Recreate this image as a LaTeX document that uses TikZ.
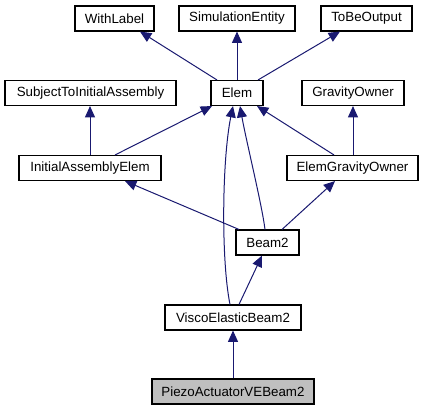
\documentclass[tikz,border=0pt]{standalone}
\usepackage{fontspec}
\setmainfont{Liberation Sans}
\usetikzlibrary{arrows.meta,calc}
\definecolor{edgeblue}{RGB}{25,25,112}
\definecolor{selgray}{RGB}{191,191,191}
\begin{document}
\begin{tikzpicture}[x=0.75pt,y=-0.75pt,
  cls/.style={draw=black,line width=0.8pt,fill=white,inner sep=0pt,minimum height=25*0.75pt,font=\fontsize{10}{12}\selectfont},
  inh/.style={draw=edgeblue,line width=0.75pt,-{Triangle[length=8.5pt,width=7.5pt]},fill=none},
]
\useasboundingbox (0,0) rectangle (424,411);
\node[cls,minimum width=79*0.75pt] (wl) at (114.5,18.5) {WithLabel};
\node[cls,minimum width=116*0.75pt] (se) at (237,18.5) {SimulationEntity};
\node[cls,minimum width=91*0.75pt] (tbo) at (366.5,18.5) {ToBeOutput};
\node[cls,minimum width=171*0.75pt] (stia) at (90.5,93) {SubjectToInitialAssembly};
\node[cls,minimum width=52*0.75pt] (elem) at (237,93) {Elem};
\node[cls,minimum width=102*0.75pt] (go) at (353,93) {GravityOwner};
\node[cls,minimum width=142*0.75pt] (iae) at (90,168) {InitialAssemblyElem};
\node[cls,minimum width=131*0.75pt] (ego) at (352.5,168) {ElemGravityOwner};
\node[cls,minimum width=63*0.75pt] (beam) at (267.5,242.5) {Beam2};
\node[cls,minimum width=136*0.75pt] (veb) at (233,317.5) {ViscoElasticBeam2};
\node[cls,minimum width=162*0.75pt,fill=selgray] (piezo) at (233,391.5) {PiezoActuatorVEBeam2};

\draw[inh] ($(elem.north)+(-20,0)$) -- ($(wl.south)+(25.5,0)$);
\draw[inh] (elem.north) -- (se.south);
\draw[inh] ($(elem.north)+(21,0)$) -- ($(tbo.south)+(-26.5,0)$);
\draw[inh] (iae.north) -- ($(stia.south)+(-0.5,0)$);
\draw[inh] ($(iae.north)+(25,0)$) -- ($(elem.south)+(-25,0)$);
\draw[inh] ($(ego.north)+(-18.5,0)$) -- ($(elem.south)+(20,0)$);
\draw[inh] ($(ego.north)+(0.5,0)$) -- (go.south);
\draw[inh] ($(beam.north)+(-28.5,0)$) -- ($(iae.south)+(35,0)$);
\draw[inh] ($(beam.north)+(-2.5,0)$) .. controls (262,205) and (246,140) .. ($(elem.south)+(3,0)$);
\draw[inh] ($(beam.north)+(14.5,0)$) -- ($(ego.south)+(-17.5,0)$);
\draw[inh] ($(veb.north)+(6,0)$) -- ($(beam.south)+(-5.5,0)$);
\draw[inh] ($(veb.north)+(-3,0)$) .. controls (221,260) and (222,160) .. ($(elem.south)+(-4,0)$);
\draw[inh] (piezo.north) -- (veb.south);
\end{tikzpicture}
\end{document}
